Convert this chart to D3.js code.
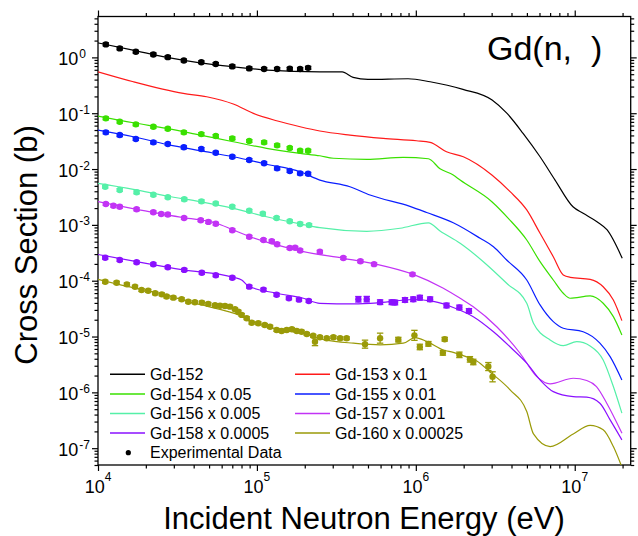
<!DOCTYPE html>
<html>
<head>
<meta charset="utf-8">
<script src="https://cdn.jsdelivr.net/npm/d3@7"></script>
<style>
  html, body { margin: 0; padding: 0; background: #fff; }
  svg { display: block; font-family: Arial, "Liberation Sans", sans-serif; }
</style>
</head>
<body>
<div id="chart"></div>
<script>
// ---- data: [energy eV, cross section b] ----
const xMajorTicks = [1e4, 1e5, 1e6, 1e7];
const yMajorTicks = [1e-7, 1e-6, 1e-5, 1e-4, 1e-3, 1e-2, 1e-1, 1e0];

const seriesNames = ['Gd-152', 'Gd-153 x 0.1', 'Gd-154 x 0.05', 'Gd-155 x 0.01',
  'Gd-156 x 0.005', 'Gd-157 x 0.001', 'Gd-158 x 0.0005', 'Gd-160 x 0.00025'];
const seriesColors = ['#000000', '#ff1a1a', '#3ae000', '#0a1eff',
  '#55f0a8', '#c233f5', '#8a10ff', '#9a9a08'];

const gd152Curve = [[1e4,1.82],[1.66e4,1.35],[2.72e4,1.0],[4.39e4,0.80],[7.08e4,0.68],[1.16e5,0.593],
  [2.49e5,0.552],[3.44e5,0.552],[4.03e5,0.439],[5.0e5,0.404],[8.93e5,0.414],[1.23e6,0.366],[1.98e6,0.267],
  [3.02e6,0.172],[3.75e6,0.099],[4.73e6,0.0436],[6.05e6,0.0166],[7.52e6,0.00635],[9.75e6,0.00211],
  [1.13e7,0.00161],[1.38e7,0.00114],[1.6e7,0.00081],[1.99e7,0.000252]];
const gd153Curve = [[1e4,0.552],[1.67e4,0.366],[3.44e4,0.227],[4.83e4,0.197],[7.1e4,0.146],[9.5e4,0.0993],
  [1.33e5,0.0733],[1.87e5,0.0573],[2.49e5,0.048],[3.85e5,0.0406],[6.24e5,0.0355],[1.01e6,0.0321],[1.23e6,0.0301],
  [1.56e6,0.0204],[1.99e6,0.0166],[3.01e6,0.00782],[3.92e6,0.00393],[4.99e6,0.00185],[6.05e6,0.000706],
  [7.33e6,0.000269],[8.47e6,0.000127],[9.36e6,0.000115],[1.25e7,0.000106],[1.51e7,7.8e-5],[1.75e7,4.5e-5],[1.98e7,1.93e-5]];
const gd154Curve = [[1e4,0.0889],[1.67e4,0.0675],[2.7e4,0.0536],[4.39e4,0.0406],[7.1e4,0.0308],[1.15e5,0.0235],
  [1.87e5,0.0191],[2.49e5,0.0173],[3.03e5,0.0156],[4.91e5,0.0149],[8.34e5,0.0162],[1.2e6,0.0153],[1.42e6,0.0101],
  [1.72e6,0.00782],[1.9e6,0.00635],[3.01e6,0.0026],[3.82e6,0.00131],[4.99e6,0.000536],[6.05e6,0.000219],
  [7.33e6,0.000103],[8.47e6,5.96e-5],[9.36e6,4.85e-5],[1.25e7,5.33e-5],[1.51e7,3.94e-5],[1.75e7,2.27e-5],[1.98e7,1.07e-5]];
const gd155Curve = [[1e4,0.05],[1.67e4,0.0379],[2.7e4,0.0277],[4.39e4,0.0213],[7.1e4,0.0166],[1.15e5,0.0122],
  [1.87e5,0.00895],[2.49e5,0.00635],[3.85e5,0.00482],[5.15e5,0.00343],[9.18e5,0.00215],[1.17e6,0.00167],
  [1.72e6,0.00109],[2.54e6,0.000575],[3.08e6,0.000406],[3.73e6,0.000235],[4.99e6,0.000103],[6.05e6,3.68e-5],
  [7.33e6,1.85e-5],[8.47e6,1.41e-5],[1.13e7,1.22e-5],[1.44e7,7.6e-6],[1.67e7,4.37e-6],[1.98e7,1.67e-6]];
const gd156Curve = [[1e4,0.00555],[1.67e4,0.00434],[2.7e4,0.00329],[4.39e4,0.0026],[7.1e4,0.00198],[1.15e5,0.0014],
  [1.87e5,0.00104],[2.49e5,0.00089],[4.91e5,0.000767],[7.96e5,0.000869],[1.2e6,0.00109],[1.42e6,0.000776],
  [1.9e6,0.000468],[2.66e6,0.000219],[3.73e6,8.99e-5],[4.99e6,3.94e-5],[5.5e6,1.73e-5],[7.0e6,8.7e-6],
  [8.47e6,6.87e-6],[1.03e7,8.1e-6],[1.25e7,6.79e-6],[1.51e7,3.81e-6],[1.75e7,1.27e-6],[1.98e7,4.24e-7]];
const gd157Curve = [[1e4,0.0026],[1.75e4,0.0019],[3.44e4,0.00135],[5.58e4,0.00107],[7.1e4,0.00081],[9.06e4,0.000614],
  [1.33e5,0.000437],[1.96e5,0.000331],[3.5e5,0.000252],[5.68e5,0.000197],[9.64e5,0.00013],[1.49e6,7.33e-5],
  [1.9e6,4.85e-5],[2.3e6,3.43e-5],[3.23e6,1.5e-5],[4.53e6,5.02e-6],[5.77e6,1.91e-6],[7.0e6,1.42e-6],
  [9.79e6,1.79e-6],[1.19e7,1.63e-6],[1.37e7,1.27e-6],[1.59e7,6.4e-7],[1.98e7,1.86e-7]];
const gd158Curve = [[1e4,2.95e-4],[1.75e4,2.19e-4],[3.44e4,1.56e-4],[7.1e4,1.15e-4],[8.02e4,1.03e-4],[8.83e4,8.05e-5],
  [1.33e5,5.96e-5],[1.96e5,4.85e-5],[2.49e5,3.94e-5],[4.05e5,3.84e-5],[5.96e5,4.05e-5],[9.64e5,4.61e-5],
  [1.29e6,4.25e-5],[1.72e6,3.32e-5],[2.3e6,2.27e-5],[3.08e6,1.22e-5],[4.11e6,5.75e-6],[4.99e6,3.33e-6],
  [6.05e6,1.67e-6],[7.33e6,1.03e-6],[9.79e6,8.4e-7],[1.19e7,8.2e-7],[1.44e7,6.4e-7],[1.67e7,3.21e-7],[1.98e7,1.41e-7]];
const gd160Curve = [[1e4,1.06e-4],[1.55e4,7.82e-5],[2.52e4,5.79e-5],[4.07e4,3.94e-5],[6.61e4,2.79e-5],[7.64e4,2.44e-5],
  [8.83e4,1.98e-5],[1.07e5,1.61e-5],[1.43e5,1.31e-5],[1.91e5,1.15e-5],[2.69e5,8.7e-6],[4.05e5,7.6e-6],
  [5.96e5,7.1e-6],[8.34e5,7.6e-6],[9.89e5,9.6e-6],[1.17e6,8.2e-6],[1.49e6,5.75e-6],[1.72e6,5.19e-6],
  [2.09e6,4.32e-6],[2.42e6,3.66e-6],[2.93e6,2.32e-6],[3.92e6,1.11e-6],[4.99e6,4.53e-7],[5.5e6,1.8e-7],
  [7.0e6,1.07e-7],[9.79e6,1.8e-7],[1.25e7,2.56e-7],[1.51e7,2.13e-7],[1.75e7,1.07e-7],[1.98e7,4.6e-8]];

// experimental points: [energy, cross section, relative error]
const gd152Exp = [[1.12e4,1.71],[1.37e4,1.45],[1.73e4,1.26],[2.23e4,1.13],[2.75e4,1.01],[3.47e4,0.88],[4.47e4,0.82],
  [5.51e4,0.76],[7.0e4,0.69],[8.95e4,0.635],[1.11e5,0.62],[1.34e5,0.62],[1.61e5,0.625],[1.87e5,0.62],[2.1e5,0.65]];
const gd154Exp = [[1.12e4,0.0809],[1.37e4,0.0703],[1.73e4,0.0632],[2.23e4,0.0573],[2.75e4,0.0527],[3.47e4,0.0454],
  [4.47e4,0.0423],[5.51e4,0.039],[7.0e4,0.0355],[8.95e4,0.0318],[1.11e5,0.0301],[1.34e5,0.0266],[1.61e5,0.0238],
  [1.87e5,0.0213],[2.1e5,0.0213]];
const gd155Exp = [[1.12e4,0.0454],[1.37e4,0.0406],[1.73e4,0.0345],[2.23e4,0.0301],[2.75e4,0.0281],[3.47e4,0.0245],
  [4.47e4,0.0228],[5.51e4,0.0196],[7.0e4,0.0166],[8.95e4,0.0145],[1.11e5,0.0127],[1.34e5,0.0103],[1.61e5,0.00922],
  [1.87e5,0.00838],[2.1e5,0.00824]];
const gd156Exp = [[1.11e4,0.00482],[1.37e4,0.00421],[1.75e4,0.00383],[2.23e4,0.00347],[2.75e4,0.00312],[3.49e4,0.00287],
  [4.48e4,0.00264],[5.51e4,0.00241],[7.0e4,0.00211],[8.95e4,0.00179],[1.09e5,0.00158],[1.33e5,0.00133],
  [1.61e5,0.00116],[1.87e5,0.00104],[2.13e5,0.00099]];
const gd157Exp = [[1.12e4,0.00237],[1.25e4,0.0022],[1.37e4,0.00211],[1.75e4,0.0019],[2.23e4,0.00168],[2.5e4,0.00157],
  [2.75e4,0.00153],[3.48e4,0.00133],[4.43e4,0.00121],[4.95e4,0.00113],[5.51e4,0.00105],[7.0e4,0.0008],
  [8.95e4,0.000614],[1.1e5,0.000536],[1.24e5,0.000508],[1.34e5,0.000451],[1.61e5,0.000385],[1.74e5,0.00039],
  [1.87e5,0.000348],[2.49e5,0.00033],[3.5e5,0.000255],[4.48e5,0.000223],[5.46e5,0.000198],[9.53e5,0.00013]];
const gd158Exp = [[1.11e4,2.58e-4],[1.37e4,2.35e-4],[1.75e4,2.14e-4],[2.23e4,1.97e-4],[2.75e4,1.74e-4],[3.49e4,1.56e-4],
  [4.5e4,1.39e-4],[5.51e4,1.25e-4],[7.0e4,1.13e-4],[8.95e4,7.82e-5],[1.1e5,6.92e-5],[1.33e5,5.62e-5],
  [1.59e5,4.85e-5],[1.84e5,4.58e-5],[2.12e5,4.34e-5],[4.35e5,4.65e-5,0.12],[4.91e5,4.67e-5,0.12],[5.96e5,4.13e-5,0.1],
  [7.05e5,4.11e-5,0.1],[7.4e5,4.07e-5,0.1],[8.55e5,4.52e-5,0.1],[9.64e5,4.65e-5,0.1],[1.06e6,4.97e-5,0.1],
  [1.23e6,4.65e-5,0.1],[1.56e6,3.6e-5,0.1],[1.88e6,3.32e-5,0.1],[2.16e6,2.87e-5,0.1]];
const gd160Exp = [[1.11e4,9.6e-5],[1.31e4,9.2e-5],[1.52e4,8.6e-5],[1.71e4,7.8e-5],[1.88e4,6.8e-5],[2.07e4,6.6e-5],
  [2.29e4,5.96e-5],[2.52e4,5.7e-5],[2.7e4,5.2e-5],[2.98e4,4.97e-5],[3.36e4,4.65e-5],[3.7e4,4.21e-5],[4.07e4,4.11e-5],
  [4.5e4,4.05e-5],[4.94e4,3.84e-5],[5.45e4,3.63e-5],[5.86e4,3.57e-5],[6.3e4,3.53e-5],[6.77e4,3.43e-5],[7.28e4,3.08e-5],
  [7.64e4,2.79e-5],[8.02e4,2.44e-5],[8.63e4,2.13e-5],[9.27e4,1.77e-5],[1.02e5,1.73e-5],[1.12e5,1.61e-5],
  [1.21e5,1.5e-5],[1.33e5,1.31e-5],[1.43e5,1.26e-5],[1.54e5,1.31e-5],[1.66e5,1.35e-5],[1.78e5,1.26e-5],
  [1.91e5,1.22e-5],[2.06e5,1.11e-5],[2.26e5,1.03e-5],[2.32e5,8.1e-6,0.18],[2.49e5,9.7e-6],[2.75e5,9.3e-6],
  [3.03e5,9.7e-6],[3.34e5,9.3e-6],[3.67e5,9.3e-6],[4.79e5,7.3e-6,0.18],[5.96e5,9.35e-6,0.23],[7.76e5,8.8e-6,0.1],
  [9.8e5,1.05e-5,0.23],[1.06e6,6.5e-6,0.12],[1.2e6,7.4e-6,0.1],[1.52e6,8.95e-6,0.08],[1.48e6,5.1e-6,0.1],
  [1.88e6,4.7e-6,0.12],[2.19e6,3.9e-6,0.12],[2.3e6,3.5e-6,0.12],[2.86e6,2.9e-6,0.18],[3.04e6,1.9e-6,0.23]];

const curves = [gd152Curve, gd153Curve, gd154Curve, gd155Curve, gd156Curve, gd157Curve, gd158Curve, gd160Curve];
const expSets = [gd152Exp, null, gd154Exp, gd155Exp, gd156Exp, gd157Exp, gd158Exp, gd160Exp];
const defaultErr = 0.06;

// ---- layout ----
const W = 638, H = 536;
const X0 = 98, X1 = 630.7, Y0 = 16.5, Y1 = 465;

const svg = d3.select('#chart').append('svg')
  .attr('width', W).attr('height', H);

const x = d3.scaleLog().domain([1e4, 2.25e7]).range([X0, X1]);
const y = d3.scaleLog().domain([5e-8, 5.4]).range([Y1, Y0]);

svg.append('defs').append('clipPath').attr('id', 'plot-clip')
  .append('rect').attr('x', X0).attr('y', Y0).attr('width', X1 - X0).attr('height', Y1 - Y0);

// minor tick values (2..9 per decade) inside each domain
function minorTicks(scale) {
  const [a, b] = scale.domain();
  const out = [];
  for (let e = Math.floor(Math.log10(a)); e <= Math.ceil(Math.log10(b)); e++) {
    for (let m = 2; m <= 9; m++) {
      const v = m * Math.pow(10, e);
      if (v >= a && v <= b) out.push(v);
    }
  }
  return out;
}

function styleAxis(g) {
  g.select('.domain').remove();
  g.selectAll('line').attr('stroke', '#000').attr('stroke-width', 1.2);
}

// bottom axis
svg.append('g').attr('transform', `translate(0,${Y1})`)
  .call(d3.axisBottom(x).tickValues(minorTicks(x)).tickSize(3.5).tickFormat(''))
  .call(styleAxis);
svg.append('g').attr('transform', `translate(0,${Y1})`)
  .call(d3.axisBottom(x).tickValues(xMajorTicks).tickSize(6).tickFormat(''))
  .call(styleAxis);
// top axis (mirror)
svg.append('g').attr('transform', `translate(0,${Y0})`)
  .call(d3.axisTop(x).tickValues(minorTicks(x)).tickSize(3.5).tickFormat(''))
  .call(styleAxis);
svg.append('g').attr('transform', `translate(0,${Y0})`)
  .call(d3.axisTop(x).tickValues(xMajorTicks).tickSize(6).tickFormat(''))
  .call(styleAxis);
// left axis
svg.append('g').attr('transform', `translate(${X0},0)`)
  .call(d3.axisLeft(y).tickValues(minorTicks(y)).tickSize(3.5).tickFormat(''))
  .call(styleAxis);
svg.append('g').attr('transform', `translate(${X0},0)`)
  .call(d3.axisLeft(y).tickValues(yMajorTicks).tickSize(6).tickFormat(''))
  .call(styleAxis);
// right axis (mirror)
svg.append('g').attr('transform', `translate(${X1},0)`)
  .call(d3.axisRight(y).tickValues(minorTicks(y)).tickSize(3.5).tickFormat(''))
  .call(styleAxis);
svg.append('g').attr('transform', `translate(${X1},0)`)
  .call(d3.axisRight(y).tickValues(yMajorTicks).tickSize(6).tickFormat(''))
  .call(styleAxis);

// tick labels, 10 with superscript exponent
const expText = v => { const e = Math.round(Math.log10(v)); return e < 0 ? '-' + (-e) : String(e); };

const xLab = svg.append('g').selectAll('text').data(xMajorTicks).join('text')
  .attr('x', d => x(d)).attr('y', Y1 + 28)
  .attr('text-anchor', 'middle').attr('font-size', 18).attr('fill', '#000');
xLab.append('tspan').text('10');
xLab.append('tspan').attr('dy', -12).attr('font-size', 12).text(d => expText(d));

const yLab = svg.append('g').selectAll('text').data(yMajorTicks).join('text')
  .attr('x', 58.3).attr('y', d => y(d) + 7.6)
  .attr('text-anchor', 'start').attr('font-size', 18).attr('fill', '#000');
yLab.append('tspan').text('10');
yLab.append('tspan').attr('dy', -7).attr('dx', 1).attr('font-size', 12).text(d => expText(d));

// frame
svg.append('rect').attr('x', X0).attr('y', Y0).attr('width', X1 - X0).attr('height', Y1 - Y0)
  .attr('fill', 'none').attr('stroke', '#000').attr('stroke-width', 1.3);

// ---- curves ----
const plot = svg.append('g').attr('clip-path', 'url(#plot-clip)');
const line = d3.line().x(d => x(d[0])).y(d => y(d[1])).curve(d3.curveMonotoneX);

plot.selectAll('path.curve').data(curves).join('path')
  .attr('class', 'curve')
  .attr('d', line)
  .attr('fill', 'none')
  .attr('stroke', (d, i) => seriesColors[i])
  .attr('stroke-width', 1.2);

// ---- experimental points with error bars ----
expSets.forEach((pts, i) => {
  if (!pts) return;
  const col = seriesColors[i];
  const g = plot.append('g');
  const pt = g.selectAll('g').data(pts).join('g');
  pt.append('line')
    .attr('x1', d => x(d[0])).attr('x2', d => x(d[0]))
    .attr('y1', d => y(d[1] * (1 + (d[2] || defaultErr))))
    .attr('y2', d => y(d[1] / (1 + (d[2] || defaultErr))))
    .attr('stroke', col).attr('stroke-width', 1.3);
  ['1', '2'].forEach(k => {
    pt.append('line')
      .attr('x1', d => x(d[0]) - 3.2).attr('x2', d => x(d[0]) + 3.2)
      .attr('y1', d => y(k === '1' ? d[1] * (1 + (d[2] || defaultErr)) : d[1] / (1 + (d[2] || defaultErr))))
      .attr('y2', d => y(k === '1' ? d[1] * (1 + (d[2] || defaultErr)) : d[1] / (1 + (d[2] || defaultErr))))
      .attr('stroke', col).attr('stroke-width', 1.3);
  });
  pt.append('circle')
    .attr('cx', d => x(d[0])).attr('cy', d => y(d[1]))
    .attr('r', 3.2).attr('fill', col);
});

// ---- legend ----
const legend = svg.append('g').attr('font-size', 16).attr('fill', '#000');
seriesNames.forEach((name, i) => {
  const col = i % 2, row = Math.floor(i / 2);
  const lx = col === 0 ? 110 : 295;
  const ly = 374.3 + row * 19.6;
  legend.append('line').attr('x1', lx).attr('x2', lx + 35).attr('y1', ly).attr('y2', ly)
    .attr('stroke', seriesColors[i]).attr('stroke-width', 1.5);
  legend.append('text').attr('x', lx + 40).attr('y', ly).attr('dy', '0.35em').text(name);
});
legend.append('circle').attr('cx', 128.3).attr('cy', 374.3 + 4 * 19.6).attr('r', 2.6).attr('fill', '#000');
legend.append('text').attr('x', 150).attr('y', 374.3 + 4 * 19.6).attr('dy', '0.35em').text('Experimental Data');

// ---- titles ----
svg.append('text').attr('x', 487).attr('y', 60).attr('font-size', 34).attr('fill', '#000')
  .text('Gd(n,\u00a0\u00a0)');

svg.append('text').attr('x', 364).attr('y', 529).attr('text-anchor', 'middle')
  .attr('font-size', 31).attr('fill', '#000').text('Incident Neutron Energy (eV)');

svg.append('text').attr('transform', 'translate(37,245) rotate(-90)').attr('text-anchor', 'middle')
  .attr('font-size', 31).attr('fill', '#000').text('Cross Section (b)');
</script>
</body>
</html>
